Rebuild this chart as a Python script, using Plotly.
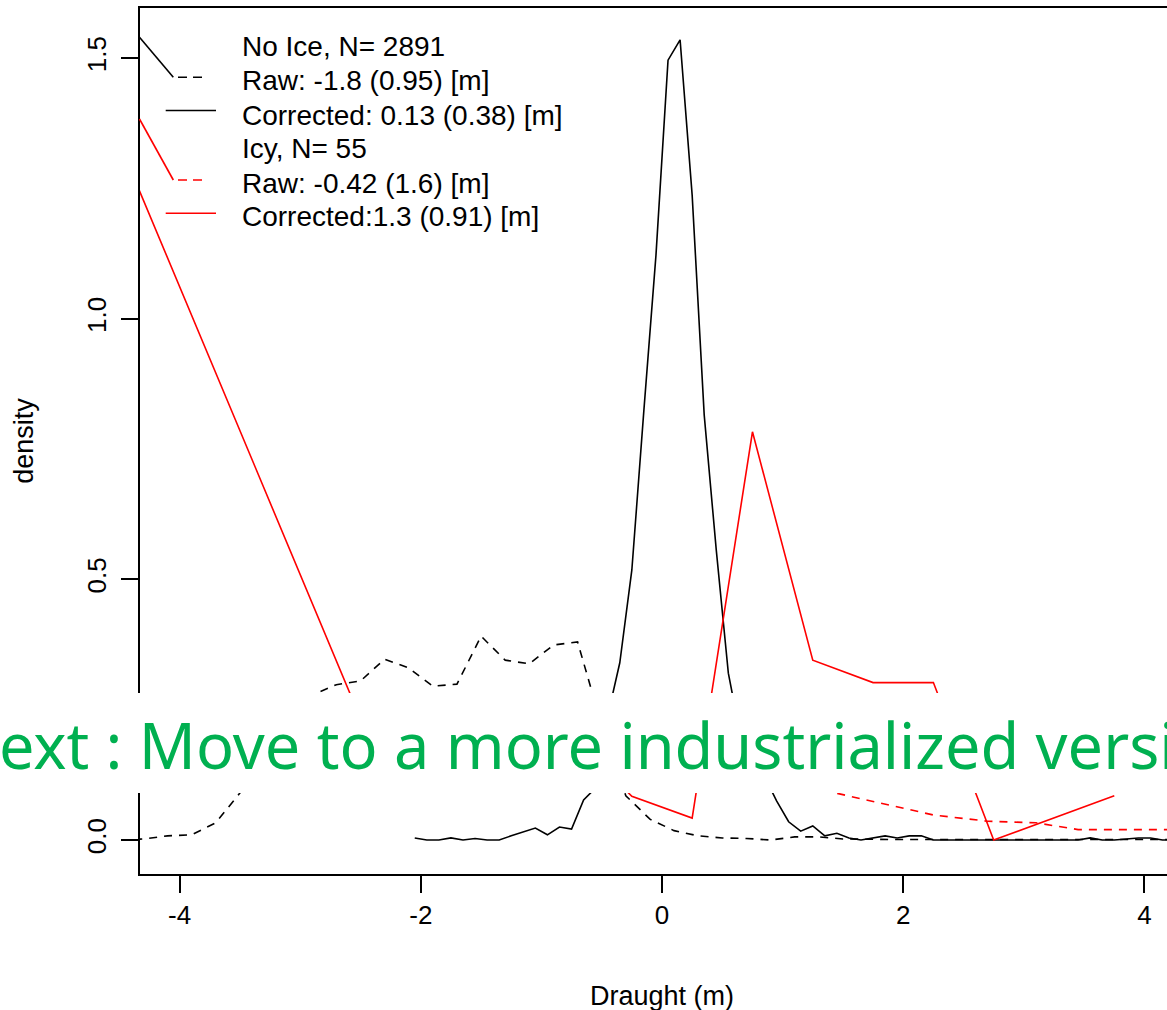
import plotly.graph_objects as go

# ---------------- data ----------------
no_ice_raw_x = [-4.5, -4.3, -4.1, -3.9, -3.7, -3.5, -3.3, -3.1, -2.9, -2.7, -2.5, -2.3, -2.1,
                -1.9, -1.7, -1.5, -1.3, -1.1, -0.9, -0.7, -0.5, -0.3, -0.1, 0.1, 0.3, 0.5,
                0.7, 0.9, 1.1, 1.3, 1.5, 1.7, 1.9, 2.1, 2.3, 2.5, 2.7, 2.9, 3.1, 3.3, 3.5,
                3.7, 3.9, 4.1, 4.3]
no_ice_raw_y = [0.0, 0.002, 0.008, 0.010, 0.033, 0.090, 0.170, 0.240, 0.278, 0.298, 0.305,
                0.347, 0.330, 0.295, 0.299, 0.391, 0.345, 0.338, 0.374, 0.380, 0.220, 0.085,
                0.040, 0.018, 0.008, 0.004, 0.003, 0.000, 0.006, 0.006, 0.002, 0.001, 0.001,
                0.001, 0.001, 0.001, 0.001, 0.001, 0.001, 0.001, 0.001, 0.001, 0.001, 0.001,
                0.001]

no_ice_corr_x = [-2.05, -1.95, -1.85, -1.75, -1.65, -1.55, -1.45, -1.35, -1.25, -1.15, -1.05,
                 -0.95, -0.85, -0.75, -0.65, -0.55, -0.45, -0.35, -0.25, -0.15, -0.05, 0.05,
                 0.15, 0.25, 0.35, 0.45, 0.55, 0.65, 0.75, 0.85, 0.95, 1.05, 1.15, 1.25, 1.35,
                 1.45, 1.55, 1.65, 1.75, 1.85, 1.95, 2.05, 2.15, 2.25, 2.35, 2.45, 2.55, 2.65,
                 2.75, 2.85, 2.95, 3.05, 3.15, 3.25, 3.35, 3.45, 3.55, 3.65, 3.75, 3.85, 3.95,
                 4.05, 4.15, 4.25]
no_ice_corr_y = [0.004, 0.0, 0.0, 0.004, 0.0, 0.003, 0.0, 0.0, 0.008, 0.016, 0.023,
                 0.010, 0.025, 0.021, 0.077, 0.100, 0.238, 0.340, 0.518, 0.825, 1.122, 1.496,
                 1.535, 1.237, 0.815, 0.556, 0.320, 0.200, 0.150, 0.122, 0.075, 0.035, 0.017,
                 0.027, 0.008, 0.013, 0.004, 0.0, 0.004, 0.008, 0.004, 0.008, 0.008, 0.0, 0.0,
                 0.0, 0.0, 0.0, 0.0, 0.0, 0.0, 0.0, 0.0, 0.0, 0.0, 0.0, 0.004, 0.0, 0.0, 0.002,
                 0.004, 0.004, 0.0, 0.0]

icy_raw_x = [-2.75, -1.75, -0.75, 0.25, 0.75, 1.25, 1.75, 2.25, 2.7, 3.1, 3.45, 4.3]
icy_raw_y = [0.15, 0.2, 0.24, 0.2, 0.14, 0.10, 0.074, 0.048, 0.036, 0.033, 0.020, 0.020]

icy_corr_x = [-4.75, -2.25, -1.25, -0.75, -0.25, 0.25, 0.75, 1.25, 1.75, 2.25, 2.75, 3.75]
icy_corr_y = [1.476, 0.095, 0.15, 0.20, 0.084, 0.042, 0.783, 0.345, 0.302, 0.302, 0.0, 0.085]

x_ticks = [-4, -2, 0, 2, 4]
x_tick_text = ["-4", "-2", "0", "2", "4"]
y_ticks = [0.0, 0.5, 1.0, 1.5]
y_tick_text = ["0.0", "0.5", "1.0", "1.5"]

legend_labels = ["No Ice, N= 2891", "Raw: -1.8 (0.95) [m]", "Corrected: 0.13 (0.38) [m]",
                 "Icy, N= 55", "Raw: -0.42 (1.6) [m]", "Corrected:1.3 (0.91) [m]"]
overlay_text = "Next : Move to a more industrialized version"
x_title = "Draught (m)"
y_title = "density"

# ---------------- layout helpers ----------------
W, H = 1167, 1010
ML, MR, MT, MB = 140, 0, 8, 136
PW, PH = W - ML - MR, H - MT - MB


def px(xp):
    return (xp - ML) / PW


def py(yp):
    return (H - MB - yp) / PH


FONT = "Liberation Sans, Arial, sans-serif"
DASH = "8px,7px"
LW = 1.6

fig = go.Figure()
fig.add_trace(go.Scatter(x=no_ice_raw_x, y=no_ice_raw_y, mode="lines",
                         line=dict(color="black", width=LW, dash=DASH)))
fig.add_trace(go.Scatter(x=no_ice_corr_x, y=no_ice_corr_y, mode="lines",
                         line=dict(color="black", width=LW)))
fig.add_trace(go.Scatter(x=icy_raw_x, y=icy_raw_y, mode="lines",
                         line=dict(color="red", width=LW, dash=DASH)))
fig.add_trace(go.Scatter(x=icy_corr_x, y=icy_corr_y, mode="lines",
                         line=dict(color="red", width=LW)))

shapes = []
# legend samples and the little leader strokes going to the dashed samples
leg_rows = [47, 80, 115.5, 148, 183.5, 216]
shapes.append(dict(type="line", xref="paper", yref="paper", x0=px(139.5), y0=py(37.3),
                   x1=px(173.3), y1=py(77.3), line=dict(color="black", width=LW)))
shapes.append(dict(type="line", xref="paper", yref="paper", x0=px(178), y0=py(77.3),
                   x1=px(202), y1=py(77.3), line=dict(color="black", width=LW, dash="9px,6px")))
shapes.append(dict(type="line", xref="paper", yref="paper", x0=px(165.7), y0=py(110.5),
                   x1=px(216), y1=py(110.5), line=dict(color="black", width=LW)))
shapes.append(dict(type="line", xref="paper", yref="paper", x0=px(139.5), y0=py(119),
                   x1=px(173.3), y1=py(180), line=dict(color="red", width=LW)))
shapes.append(dict(type="line", xref="paper", yref="paper", x0=px(178), y0=py(180),
                   x1=px(202), y1=py(180), line=dict(color="red", width=LW, dash="9px,6px")))
shapes.append(dict(type="line", xref="paper", yref="paper", x0=px(165.7), y0=py(213.3),
                   x1=px(216), y1=py(213.3), line=dict(color="red", width=LW)))
# white banner laid over the chart
shapes.append(dict(type="rect", xref="paper", yref="paper", x0=px(-20), x1=px(W + 20),
                   y0=py(793), y1=py(693), fillcolor="white", line=dict(width=0),
                   layer="above"))

annotations = []
for lab, yc in zip(legend_labels, leg_rows):
    annotations.append(dict(text=lab, xref="paper", yref="paper", x=px(240), y=py(yc),
                            xanchor="left", yanchor="middle", showarrow=False,
                            font=dict(family=FONT, size=28, color="black")))
# x-axis title, centred on the middle of the (cropped) plot region, i.e. x = 0
annotations.append(dict(text=x_title, xref="x", yref="paper", x=0, y=py(996),
                        xanchor="center", yanchor="middle", showarrow=False,
                        font=dict(family=FONT, size=27, color="black")))
annotations.append(dict(text=overlay_text, xref="paper", yref="paper", x=px(-51), y=py(744),
                        xanchor="left", yanchor="middle", showarrow=False,
                        font=dict(family="Noto Sans, sans-serif", size=63, color="#00B050")))

fig.update_layout(
    width=W, height=H,
    margin=dict(l=ML, r=MR, t=MT, b=MB),
    paper_bgcolor="white", plot_bgcolor="white",
    showlegend=False,
    font=dict(family=FONT, size=26, color="black"),
    shapes=shapes, annotations=annotations,
)
fig.update_xaxes(range=[-4.328, 4.187], tickmode="array", tickvals=x_ticks, ticktext=x_tick_text,
                 ticks="outside", ticklen=17, tickwidth=1.5, tickcolor="black",
                 showline=True, linecolor="black", linewidth=2, mirror=True,
                 showgrid=False, zeroline=False,
                 tickfont=dict(family=FONT, size=26))
fig.update_yaxes(range=[-0.0652, 1.596], tickmode="array", tickvals=y_ticks, ticktext=y_tick_text,
                 tickangle=-90, ticklabelstandoff=5,
                 ticks="outside", ticklen=17, tickwidth=1.5, tickcolor="black",
                 showline=True, linecolor="black", linewidth=2, mirror=False,
                 showgrid=False, zeroline=False,
                 tickfont=dict(family=FONT, size=26),
                 title=dict(text=y_title, font=dict(family=FONT, size=27), standoff=40))

fig.write_html("out.html")
